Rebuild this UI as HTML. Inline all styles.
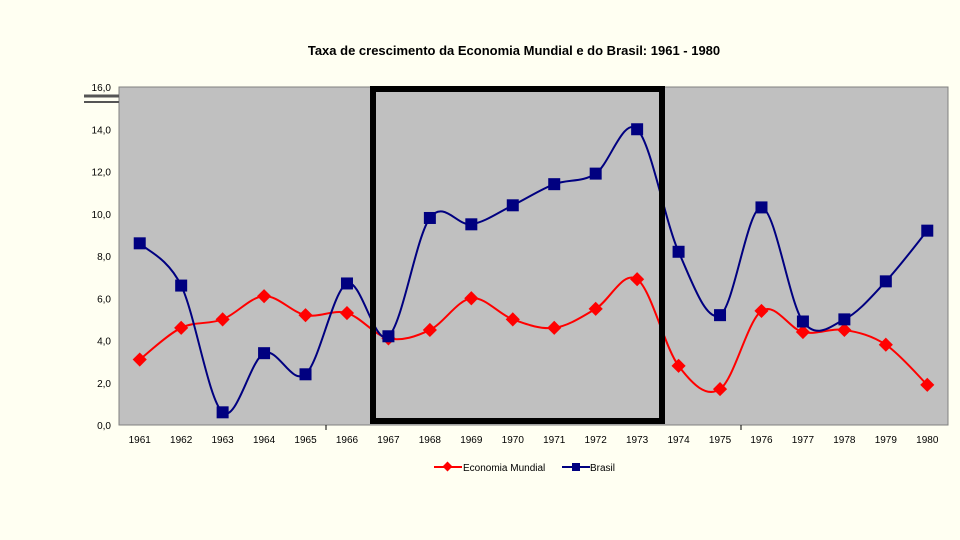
<!DOCTYPE html>
<html><head><meta charset="utf-8"><style>
body{margin:0;background:#fffff2;}
svg{display:block;font-family:"Liberation Sans",sans-serif;}
</style></head><body>
<svg id="c" width="960" height="540">
<rect width="960" height="540" fill="#fffff2"/>
<text x="514" y="55" text-anchor="middle" font-size="13" font-weight="bold">Taxa de crescimento da Economia Mundial e do Brasil: 1961 - 1980</text>
<g id="plot"></g>
</svg>
<script>
const years=["1961","1962","1963","1964","1965","1966","1967","1968","1969","1970","1971","1972","1973","1974","1975","1976","1977","1978","1979","1980"];
const brasil=[8.6,6.6,0.6,3.4,2.4,6.7,4.2,9.8,9.5,10.4,11.4,11.9,14.0,8.2,5.2,10.3,4.9,5.0,6.8,9.2];
const mundial=[3.1,4.6,5.0,6.1,5.2,5.3,4.1,4.5,6.0,5.0,4.6,5.5,6.9,2.8,1.7,5.4,4.4,4.5,3.8,1.9];
const yTicks=[0,2,4,6,8,10,12,14,16];
const L=119,R=948,T=87,B=425,ymax=16;
const NS="http://www.w3.org/2000/svg";
const g=document.getElementById('plot');
const x=i=>L+(R-L)/years.length*(i+0.5);
const y=v=>B-(B-T)*v/ymax;
function mk(t,a,p){const e=document.createElementNS(NS,t);for(const k in a)e.setAttribute(k,a[k]);(p||g).appendChild(e);return e;}
const bg=mk('rect',{x:L,y:T,width:R-L,height:B-T,fill:'#c0c0c0',stroke:'#808080'});


const ln1=mk('line',{x1:84,y1:96,x2:L,y2:96,stroke:'#555',"stroke-width":3});


const ln2=mk('line',{x1:84,y1:102,x2:L,y2:102,stroke:'#555',"stroke-width":2});


yTicks.forEach(v=>{const t=mk('text',{x:111,y:y(v)+4,"text-anchor":"end","font-size":10});t.textContent=v.toFixed(1).replace('.',',');

});
years.forEach((yr,i)=>{const t=mk('text',{x:x(i),y:443,"text-anchor":"middle","font-size":10});t.textContent=yr;

});
[326,741].forEach(px=>{const t=mk('line',{x1:px,y1:B,x2:px,y2:B+5,stroke:'#000'});

});
function path(vals){const p=vals.map((v,i)=>[x(i),y(v)]);let d=`M${p[0][0]},${p[0][1]}`;
for(let i=0;i<p.length-1;i++){const p0=p[i-1]||p[i],p1=p[i],p2=p[i+1],p3=p[i+2]||p2;
d+=` C${p1[0]+(p2[0]-p0[0])/6},${p1[1]+(p2[1]-p0[1])/6} ${p2[0]-(p3[0]-p1[0])/6},${p2[1]-(p3[1]-p1[1])/6} ${p2[0]},${p2[1]}`;}return d;}
const pm=mk('path',{d:path(mundial),fill:'none',stroke:'#ff0000',"stroke-width":2});


const pb=mk('path',{d:path(brasil),fill:'none',stroke:'#000080',"stroke-width":2});


mundial.forEach((v,i)=>{const m=mk('rect',{x:x(i)-5,y:y(v)-5,width:10,height:10,fill:'#ff0000',transform:`rotate(45 ${x(i)} ${y(v)})`});

});
brasil.forEach((v,i)=>{const m=mk('rect',{x:x(i)-6,y:y(v)-6,width:12,height:12,fill:'#000080'});

});
const box=mk('rect',{x:373,y:89,width:289,height:332,fill:'none',stroke:'#000',"stroke-width":6});


const lg=mk('g',{});


mk('line',{x1:434,y1:467,x2:462,y2:467,stroke:'#ff0000',"stroke-width":2},lg);
mk('rect',{x:444,y:463,width:7,height:7,fill:'#ff0000',transform:'rotate(45 447.5 466.5)'},lg);
const t1=mk('text',{x:463,y:471,"font-size":10},lg);t1.textContent='Economia Mundial';


mk('line',{x1:562,y1:467,x2:590,y2:467,stroke:'#000080',"stroke-width":2},lg);
mk('rect',{x:572,y:463,width:8,height:8,fill:'#000080'},lg);
const t2=mk('text',{x:590,y:471,"font-size":10},lg);t2.textContent='Brasil';


</script>
</body></html>
